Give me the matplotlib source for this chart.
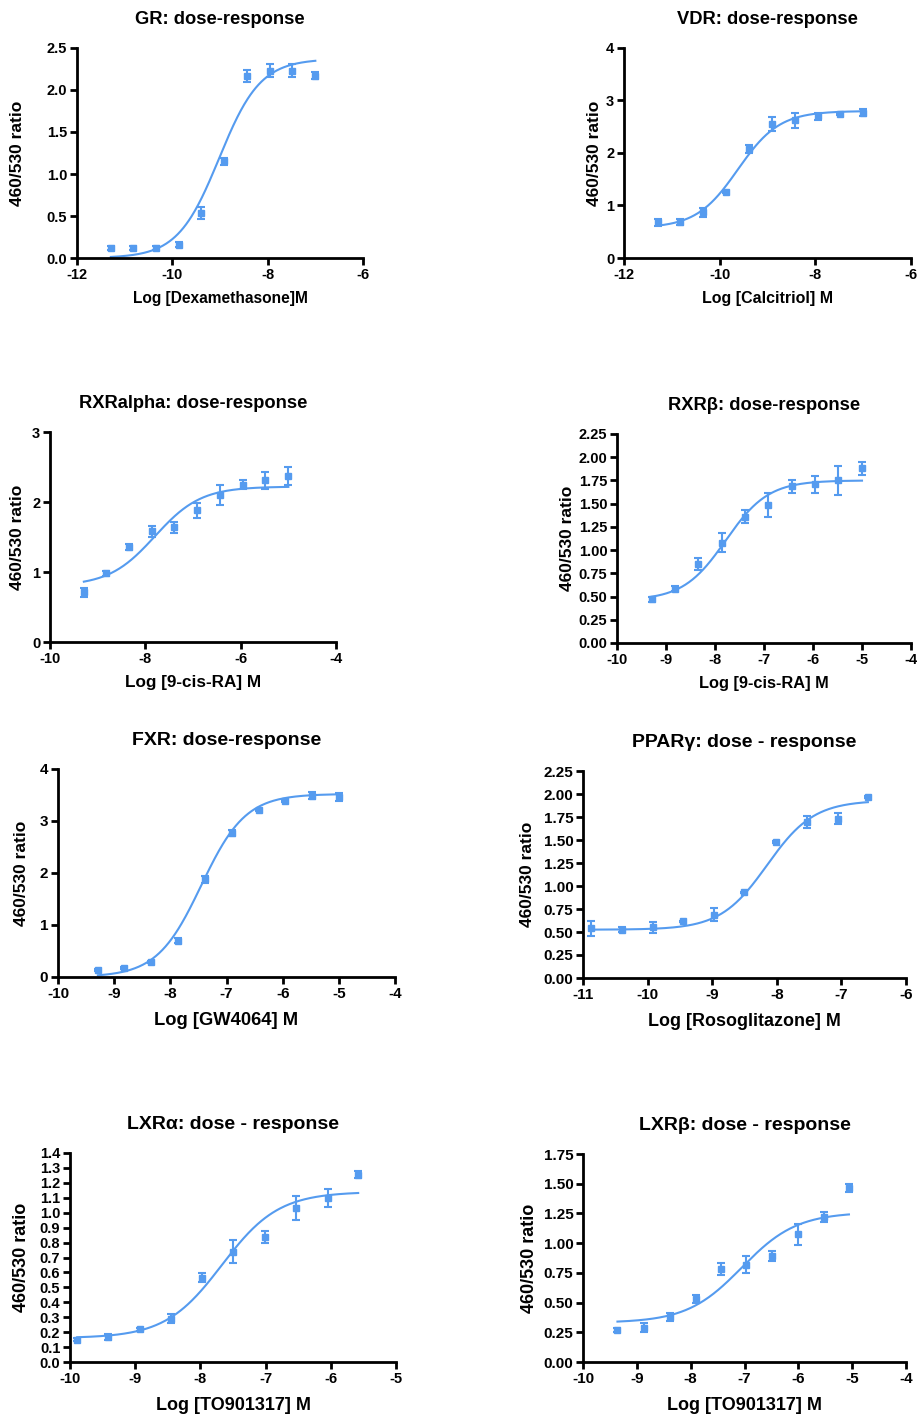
import numpy as np
import matplotlib.pyplot as plt
from matplotlib.ticker import FormatStrFormatter

plt.rcParams['font.family'] = ['Liberation Sans', 'DejaVu Sans']
plt.rcParams['font.weight'] = 'bold'
plt.rcParams['axes.unicode_minus'] = False

blue = '#559BEF'

# GR
gr_x = [-11.29, -10.82, -10.34, -9.86, -9.39, -8.91, -8.43, -7.95, -7.48, -7.0]
gr_y = [0.12, 0.12, 0.12, 0.16, 0.54, 1.15, 2.17, 2.23, 2.23, 2.17]
gr_err = [0.02, 0.02, 0.02, 0.03, 0.07, 0.04, 0.07, 0.08, 0.08, 0.04]
gr_fit = [0.0, 2.37, -9.02, 1.0]  # bottom, top, logEC50, hill

# VDR
vdr_x = [-11.29, -10.82, -10.34, -9.86, -9.39, -8.91, -8.43, -7.95, -7.48, -7.0]
vdr_y = [0.68, 0.69, 0.87, 1.26, 2.08, 2.55, 2.62, 2.70, 2.74, 2.77]
vdr_err = [0.07, 0.06, 0.08, 0.02, 0.08, 0.13, 0.15, 0.07, 0.02, 0.07]
vdr_fit = [0.57, 2.80, -9.62, 1.0]

# RXRalpha
rxra_x = [-9.29, -8.82, -8.34, -7.86, -7.39, -6.91, -6.43, -5.95, -5.48, -5.0]
rxra_y = [0.71, 0.98, 1.36, 1.58, 1.64, 1.88, 2.10, 2.25, 2.31, 2.37]
rxra_err = [0.06, 0.03, 0.04, 0.08, 0.08, 0.11, 0.14, 0.07, 0.12, 0.13]
rxra_fit = [0.80, 2.22, -7.8, 0.9]

# RXRbeta
rxrb_x = [-9.29, -8.82, -8.34, -7.86, -7.39, -6.91, -6.43, -5.95, -5.48, -5.0]
rxrb_y = [0.47, 0.585, 0.85, 1.08, 1.36, 1.49, 1.69, 1.71, 1.75, 1.88]
rxrb_err = [0.03, 0.03, 0.06, 0.10, 0.07, 0.13, 0.07, 0.09, 0.16, 0.07]
rxrb_fit = [0.46, 1.75, -7.78, 1.0]

# FXR
fxr_x = [-9.29, -8.82, -8.34, -7.86, -7.39, -6.91, -6.43, -5.95, -5.48, -5.0]
fxr_y = [0.14, 0.17, 0.29, 0.70, 1.88, 2.77, 3.21, 3.39, 3.49, 3.46]
fxr_err = [0.02, 0.02, 0.02, 0.05, 0.07, 0.05, 0.02, 0.02, 0.06, 0.07]
fxr_fit = [0.0, 3.52, -7.45, 1.1]

# PPARgamma
ppar_x = [-10.88, -10.40, -9.92, -9.45, -8.97, -8.50, -8.02, -7.54, -7.06, -6.59]
ppar_y = [0.54, 0.525, 0.55, 0.615, 0.69, 0.93, 1.48, 1.70, 1.73, 1.965]
ppar_err = [0.08, 0.03, 0.06, 0.01, 0.07, 0.01, 0.01, 0.065, 0.06, 0.01]
ppar_fit = [0.525, 1.93, -8.15, 1.2]

# LXRalpha
lxra_x = [-9.89, -9.41, -8.93, -8.45, -7.98, -7.50, -7.01, -6.53, -6.05, -5.58]
lxra_y = [0.15, 0.165, 0.22, 0.29, 0.565, 0.74, 0.84, 1.03, 1.10, 1.255]
lxra_err = [0.01, 0.02, 0.01, 0.03, 0.03, 0.08, 0.04, 0.08, 0.06, 0.025]
lxra_fit = [0.16, 1.14, -7.67, 1.0]

# LXRbeta
lxrb_x = [-9.36, -8.86, -8.39, -7.90, -7.44, -6.97, -6.48, -6.01, -5.53, -5.06]
lxrb_y = [0.27, 0.29, 0.38, 0.53, 0.78, 0.82, 0.89, 1.075, 1.22, 1.465]
lxrb_err = [0.015, 0.035, 0.035, 0.035, 0.05, 0.07, 0.04, 0.09, 0.04, 0.035]
lxrb_fit = [0.33, 1.26, -7.05, 0.85]

titles = ['GR: dose-response', 'VDR: dose-response', 'RXRalpha: dose-response',
          'RXR\u03b2: dose-response', 'FXR: dose-response', 'PPAR\u03b3: dose - response',
          'LXR\u03b1: dose - response', 'LXR\u03b2: dose - response']
xlabels = ['Log [Dexamethasone]M', 'Log [Calcitriol] M', 'Log [9-cis-RA] M',
           'Log [9-cis-RA] M', 'Log [GW4064] M', 'Log [Rosoglitazone] M',
           'Log [TO901317] M', 'Log [TO901317] M']
xticks = [np.arange(-12, -5, 2), np.arange(-12, -5, 2), np.arange(-10, -3, 2),
          np.arange(-10, -3, 1), np.arange(-10, -3, 1), np.arange(-11, -5, 1),
          np.arange(-10, -4, 1), np.arange(-10, -3, 1)]
yticks = [np.arange(0, 2.51, 0.5), np.arange(0, 4.1, 1), np.arange(0, 3.1, 1),
          np.arange(0, 2.26, 0.25), np.arange(0, 4.1, 1), np.arange(0, 2.26, 0.25),
          np.arange(0, 1.41, 0.1), np.arange(0, 1.76, 0.25)]
yfmts = ['%.1f', '%d', '%d', '%.2f', '%d', '%.2f', '%.1f', '%.2f']

data = [(gr_x, gr_y, gr_err, gr_fit), (vdr_x, vdr_y, vdr_err, vdr_fit),
        (rxra_x, rxra_y, rxra_err, rxra_fit), (rxrb_x, rxrb_y, rxrb_err, rxrb_fit),
        (fxr_x, fxr_y, fxr_err, fxr_fit), (ppar_x, ppar_y, ppar_err, ppar_fit),
        (lxra_x, lxra_y, lxra_err, lxra_fit), (lxrb_x, lxrb_y, lxrb_err, lxrb_fit)]

# axes boxes in pixels: left, right, top, bottom ; ylabel right edge x ; font sizes
W, H = 917, 1416
boxes = [(77, 363, 48, 258), (624, 911, 48, 258), (50, 336, 432, 642), (617, 911, 434, 643),
         (58, 395, 769, 977), (583, 906, 771, 978), (70, 396, 1153, 1362), (583, 906, 1154, 1362)]
ylab_x = [25, 602, 25, 575, 29, 535, 30, 538]
tick_fs = [10.5, 10.5, 10.5, 10.5, 11, 11, 10.5, 11]
title_fs = [13.2, 13.2, 13.2, 13.2, 14, 14, 14, 14]
xlab_fs = [11.2, 11.5, 12.3, 11.8, 13.2, 12.9, 13, 13]
ylab_fs = [12.5, 12.5, 12.5, 12.5, 12.5, 12.5, 13, 13]
xlab_pad = [7, 7, 7, 7, 8, 8, 8, 8]

fig = plt.figure(figsize=(W / 100, H / 100), dpi=100)

for i in range(8):
    l, r, t, b = boxes[i]
    ax = fig.add_axes([l / W, 1 - b / H, (r - l) / W, (b - t) / H])
    x, y, e, fit = data[i]
    bot, top, ec50, hill = fit
    xs = np.linspace(x[0], x[-1], 300)
    ax.plot(xs, bot + (top - bot) / (1 + 10 ** ((ec50 - xs) * hill)), color=blue, lw=1.5)
    ax.errorbar(x, y, yerr=e, fmt='s', color=blue, ms=4, capsize=3, capthick=1.5,
                elinewidth=1.5, clip_on=False)
    ax.set_xlim(xticks[i][0], xticks[i][-1])
    ax.set_ylim(0, yticks[i][-1])
    ax.set_xticks(xticks[i])
    ax.set_yticks(yticks[i])
    ax.yaxis.set_major_formatter(FormatStrFormatter(yfmts[i]))
    for s in ['top', 'right']:
        ax.spines[s].set_visible(False)
    for s in ['left', 'bottom']:
        ax.spines[s].set_linewidth(2)
    ax.tick_params(width=2, length=5, labelsize=tick_fs[i], pad=2)
    ax.set_title(titles[i], fontsize=title_fs[i], fontweight='bold', pad=17)
    ax.set_xlabel(xlabels[i], fontsize=xlab_fs[i], fontweight='bold', labelpad=xlab_pad[i])
    ax.set_ylabel('460/530 ratio', fontsize=ylab_fs[i], fontweight='bold')
    ax.yaxis.set_label_coords((ylab_x[i] - l) / (r - l), 0.5)

fig.savefig('out.png', dpi=100)
